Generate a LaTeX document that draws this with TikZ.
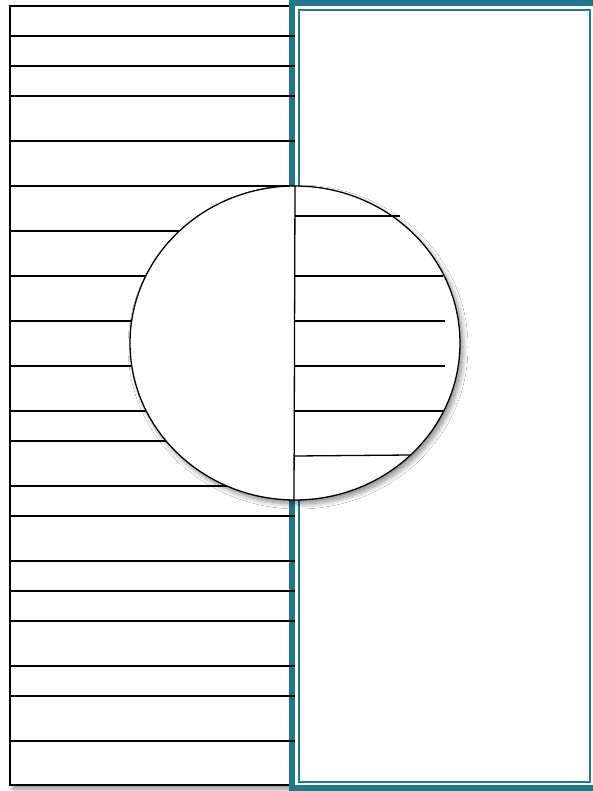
\documentclass[tikz,border=0pt]{standalone}
\usepackage{tikz}
\usepackage{xcolor}
\usetikzlibrary{shadows.blur}

\definecolor{tealframe}{RGB}{31,120,138}

\begin{document}
\begin{tikzpicture}[x=1pt, y=-1pt,
	rule/.style={black, line width=1.3pt},
	frame/.style={tealframe, line width=6pt},
	innerframe/.style={tealframe, line width=1.8pt},
	shade/.style={blur shadow={shadow xshift=3pt, shadow yshift=-4pt, shadow blur radius=5pt, shadow blur steps=8, shadow opacity=45}}]
	
	\useasboundingbox (0,0) rectangle (592,791);
	
	% Define points
	\coordinate (C) at (295,343);    % centro del cerchio
	\coordinate (T) at (295,186);    % sommita
	\coordinate (B) at (294,500);    % fondo
	
	% Left sheet with its shadow
	\draw[rule, fill=white, shade] (10,6) rectangle (291,785);
	
	% Right sheet: thick teal frame and thin inner frame
	\draw[frame, fill=white] (292,3) rectangle (596,788);
	\draw[innerframe] (299,10) rectangle (590,782);
	
	% Horizontal rules on the left sheet
	\foreach \y in {36,66,96,141,186,231,276,321,366,411,441,486,516,561,591,621,666,696,741}
	\draw[rule] (10,\y) -- (295,\y);
	
	% The circle, covering the rules
	\draw[rule, fill=white, shade] (C) ellipse [x radius=165, y radius=157];
	\draw[rule] (T) -- (B);
	
	% Rules on the right half of the circle
	\draw[rule] (295,216) -- (400,216);
	\foreach \y/\e in {276/443, 321/445, 366/445, 411/443}
	\draw[rule] (295,\y) -- (\e,\y);
	\draw[rule] (295,456) -- (410,455);
	
\end{tikzpicture}
\end{document}
